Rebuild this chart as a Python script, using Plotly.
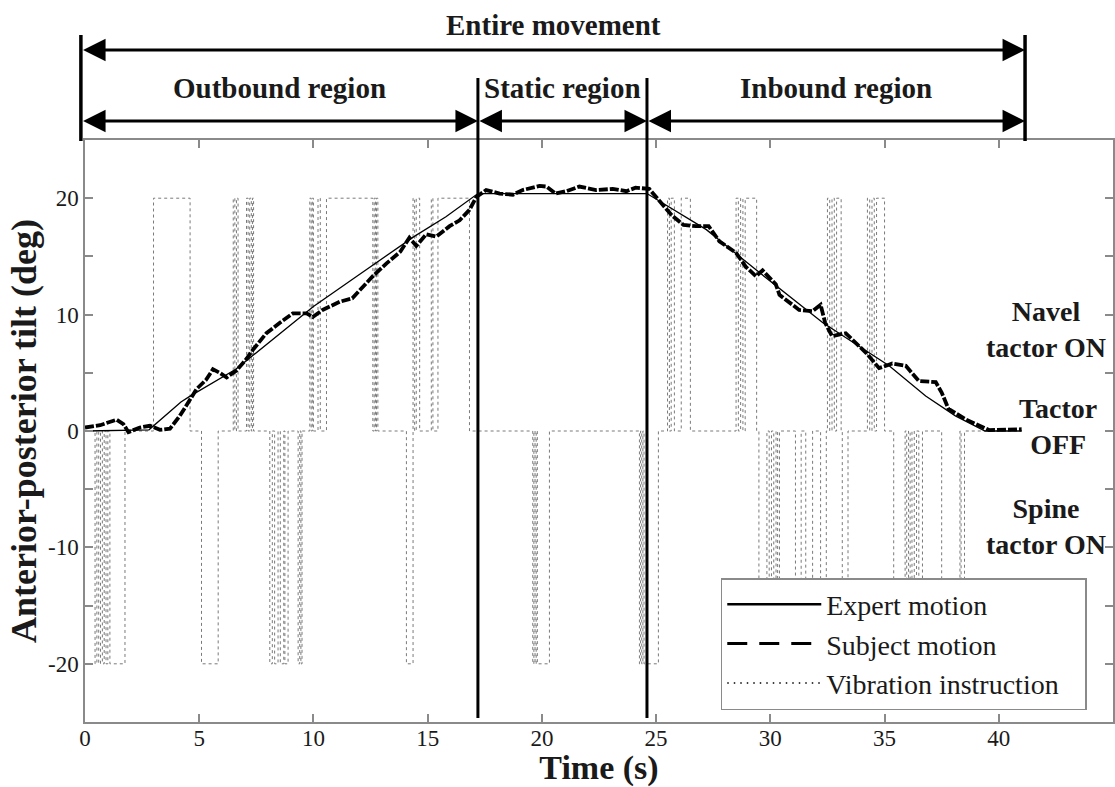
import plotly.graph_objects as go

FONT = "Liberation Serif"

# ---------------- data ----------------
expert_t = [0, 2.8, 4.2, 4.6, 6.6, 10.0, 11.9, 14.4, 15.8, 17.2, 24.6, 27.2, 29.4, 32.3, 35.2, 36.8, 38.1, 39.4, 41.0]
expert_v = [0, 0.1, 2.5, 3.0, 5.3, 10.7, 13.3, 16.7, 18.4, 20.4, 20.4, 17.3, 13.8, 9.3, 5.6, 3.0, 1.3, 0.0, 0.0]

subject_t = [0.0, 0.66, 1.38, 1.68, 1.9, 2.4, 2.84, 3.28, 3.72, 4.15, 4.6, 4.88, 5.3, 5.6, 5.9, 6.2,
             6.63, 7.07, 7.36, 7.94, 8.53, 9.1, 9.7, 9.97, 10.4, 11.15, 11.7, 12.17, 12.6, 13.2, 13.8,
             14.2, 14.5, 14.94, 15.38, 15.96, 16.4, 16.83, 17.13, 17.56, 18.15, 18.73, 19.16, 19.9,
             20.2, 20.6, 21.06, 21.64, 22.37, 23.1, 23.7, 24.1, 24.7, 25.0, 25.4, 25.7, 26.2, 26.75,
             27.3, 27.77, 28.5, 28.93, 29.37, 29.66, 30.24, 30.4, 31.26, 31.85, 32.2, 32.4, 32.7, 33.3,
             34.2, 34.76, 35.34, 35.93, 36.5, 37.24, 37.5, 37.8, 38.55, 39.1, 39.57, 41.0]
subject_v = [0.3, 0.5, 0.97, 0.6, -0.1, 0.3, 0.45, 0.1, 0.2, 1.3, 2.7, 3.6, 4.4, 5.3, 5.0, 4.6,
             5.2, 6.2, 7.0, 8.4, 9.3, 10.1, 10.1, 9.8, 10.4, 11.1, 11.4, 12.4, 13.3, 14.4, 15.4,
             16.6, 15.9, 16.9, 16.7, 17.6, 18.1, 19.0, 20.1, 20.7, 20.4, 20.3, 20.7, 21.05,
             21.0, 20.4, 20.6, 21.0, 20.7, 20.8, 20.6, 20.9, 20.8, 20.1, 19.2, 18.5, 17.7, 17.6,
             17.6, 16.3, 15.3, 14.1, 13.3, 13.8, 12.6, 11.7, 10.4, 10.3, 10.85, 9.3, 8.15, 8.4,
             6.7, 5.4, 5.8, 5.6, 4.3, 4.2, 3.3, 1.9, 1.0, 0.5, 0.08, 0.15]

# vibration instruction: switch times and the level held from that time (+20 navel, 0 off, -20 spine)
vib_t = [0, 0.44, 0.52, 0.60, 0.68, 0.76, 0.84, 0.92, 1.00, 1.09, 1.75, 3.0, 4.6, 5.1, 5.83,
         6.49, 6.56, 6.63, 6.70, 7.07, 7.14, 7.21, 7.28, 7.33, 7.38, 8.09, 8.2, 8.3, 8.45, 8.55,
         8.7, 8.75, 8.89, 9.33, 9.4, 9.45, 9.5, 9.84, 9.9, 9.95, 10.0, 10.2, 10.3, 10.57, 12.6,
         12.66, 12.72, 12.76, 12.82, 14.07, 14.36, 14.43, 14.5, 14.65, 15.16, 15.23, 15.45, 16.83,
         19.6, 19.65, 19.7, 19.75, 19.8, 20.33, 24.27, 24.32, 24.37, 24.42, 24.47, 25.1, 25.5,
         25.58, 25.66, 25.8, 26.1, 26.5, 28.5, 28.6, 28.7, 28.8, 28.9, 29.4, 29.5, 29.85, 29.95,
         30.05, 30.15, 30.25, 30.32, 30.4, 31.1, 31.35, 31.55, 31.85, 32.2, 32.45, 32.5, 32.6,
         32.7, 32.8, 32.9, 33.1, 33.15, 33.4, 34.25, 34.35, 34.45, 34.55, 34.65, 35.0, 35.4,
         35.9, 35.97, 36.05, 36.12, 36.2, 36.3, 36.4, 36.5, 36.66, 37.5, 38.3, 38.35, 38.5, 41.0]
vib_v = [0, -20, 0, -20, 0, -20, 0, -20, 0, -20, 0, 20, 0, -20, 0,
         20, 0, 20, 0, 20, 0, 20, 0, 20, 0, -20, 0, -20, 0, -20,
         0, -20, 0, -20, 0, -20, 0, 20, 0, 20, 0, 20, 0, 20, 0,
         20, 0, 20, 0, -20, 20, 0, 20, 0, 20, 0, 20, 0,
         -20, 0, -20, 0, -20, 0, -20, 0, -20, 0, -20, 0, 20,
         0, 20, 0, 20, 0, 20, 0, 20, 0, 20, 0, -20, 0, -20,
         0, -20, 0, -20, 0, -20, 0, -20, 0, -20, 0, 20, 0,
         20, 0, 20, 0, -20, 0, 20, 0, 20, 0, 20, 0, -20,
         0, -20, 0, -20, 0, -20, 0, -20, 0, -20, 0, -20, 0, 0]

# region boundaries (s) and labels
entire_span = [-0.15, 41.15]
region_bounds = [-0.15, 17.2, 24.6, 41.15]
region_labels = ["Outbound region", "Static region", "Inbound region"]
x_ticks = [0, 5, 10, 15, 20, 25, 30, 35, 40, 45]
x_ticktext = ["0", "5", "10", "15", "20", "25", "30", "35", "40", ""]
y_ticks = [-25, -20, -15, -10, -5, 0, 5, 10, 15, 20, 25]
y_ticktext = ["", "-20", "", "-10", "", "0", "", "10", "", "20", ""]
state_labels = ["Navel<br>tactor ON", "Tactor<br>OFF", "Spine<br>tactor ON"]
state_pos = [(42.05, 8.7), (42.6, 0.35), (42.05, -8.2)]
legend_names = ["Expert motion", "Subject motion", "Vibration instruction\u00a0\u00a0\u00a0"]

# ---------------- figure ----------------
W, H = 1115, 787
ML, MR, MT, MB = 85, 0, 140, 65
plot_h = H - MT - MB

def py(pix):
    """pixel row -> paper y"""
    return (H - MB - pix) / plot_h

fig = go.Figure()
fig.add_trace(go.Scatter(x=vib_t, y=vib_v, mode="lines", showlegend=False,
                         line=dict(color="#7a7a7a", width=1, dash="dot", shape="hv")))
fig.add_trace(go.Scatter(x=expert_t, y=expert_v, mode="lines", showlegend=False,
                         line=dict(color="black", width=1.3)))
fig.add_trace(go.Scatter(x=subject_t, y=subject_v, mode="lines", showlegend=False,
                         line=dict(color="black", width=3.8, dash="9px,2px")))

# legend entries
fig.add_trace(go.Scatter(x=[None], y=[None], mode="lines", name=legend_names[0],
                         line=dict(color="black", width=2.5)))
fig.add_trace(go.Scatter(x=[None], y=[None], mode="lines", name=legend_names[1],
                         line=dict(color="black", width=3, dash="20px,12px")))
fig.add_trace(go.Scatter(x=[None], y=[None], mode="lines", name=legend_names[2],
                         line=dict(color="black", width=1.5, dash="1.5px,5px")))

# boundary lines
fig.add_shape(type="line", xref="paper", yref="paper", x0=-0.004, x1=-0.004,
              y0=py(35), y1=py(141), line=dict(color="black", width=3.5))
fig.add_shape(type="line", xref="x", yref="paper", x0=entire_span[1], x1=entire_span[1],
              y0=py(35), y1=py(141), line=dict(color="black", width=3.5))
for b in region_bounds[1:3]:
    fig.add_shape(type="line", xref="x", yref="paper", x0=b, x1=b,
                  y0=py(78), y1=py(718), line=dict(color="black", width=3))

def darrow(x0, x1, ypix):
    fig.add_annotation(x=x1, y=py(ypix), xref="x", yref="paper",
                       ax=x0, ay=0, axref="x", ayref="pixel", text="",
                       showarrow=True, arrowhead=2, startarrowhead=2, arrowside="end+start",
                       arrowwidth=3, arrowsize=1.5, startarrowsize=1.5,
                       standoff=0, startstandoff=0, arrowcolor="black")

darrow(entire_span[0], entire_span[1], 50)
fig.add_annotation(x=(entire_span[0] + entire_span[1]) / 2, y=py(25), xref="x", yref="paper",
                   yanchor="middle", text="<b>Entire movement</b>", showarrow=False,
                   font=dict(family=FONT, size=29, color="#1a1a1a"))
for i, lab in enumerate(region_labels):
    a, b = region_bounds[i], region_bounds[i + 1]
    darrow(a, b, 121)
    fig.add_annotation(x=(a + b) / 2, y=py(88), xref="x", yref="paper", yanchor="middle",
                       text="<b>%s</b>" % lab, showarrow=False,
                       font=dict(family=FONT, size=29, color="#1a1a1a"))

for lab, (sx, sy) in zip(state_labels, state_pos):
    fig.add_annotation(x=sx, y=sy, xref="x", yref="y", text="<b>%s</b>" % lab,
                       showarrow=False, align="center",
                       font=dict(family=FONT, size=28, color="#1a1a1a"))

axis_common = dict(showgrid=False, zeroline=False, showline=True, linecolor="#8a8a8a",
                   linewidth=1.5, mirror="ticks", ticks="inside", ticklen=8,
                   tickcolor="#8a8a8a", tickwidth=1.5,
                   tickfont=dict(family=FONT, size=23, color="#1a1a1a"))

fig.update_layout(
    width=W, height=H,
    margin=dict(l=ML, r=MR, t=MT, b=MB),
    paper_bgcolor="white", plot_bgcolor="white",
    font=dict(family=FONT, color="#1a1a1a"),
    xaxis=dict(range=[0, 45], tickmode="array", tickvals=x_ticks, ticktext=x_ticktext,
               ticklabelstandoff=-5,
               title=dict(text="<b>Time (s)</b>", font=dict(family=FONT, size=34), standoff=5),
               **axis_common),
    yaxis=dict(range=[-25, 25], tickmode="array", tickvals=y_ticks, ticktext=y_ticktext,
               title=dict(text="<b>Anterior-posterior tilt (deg)</b>", font=dict(family=FONT, size=36),
                          standoff=0),
               **axis_common),
    legend=dict(x=(722 - ML) / (W - ML - MR), y=py(578), xanchor="left", yanchor="top",
                bgcolor="white", bordercolor="#8a8a8a", borderwidth=1.5,
                font=dict(family=FONT, size=28, color="#1a1a1a"),
                itemwidth=94, tracegroupgap=0),
    showlegend=True,
)

fig.write_html("out.html")
